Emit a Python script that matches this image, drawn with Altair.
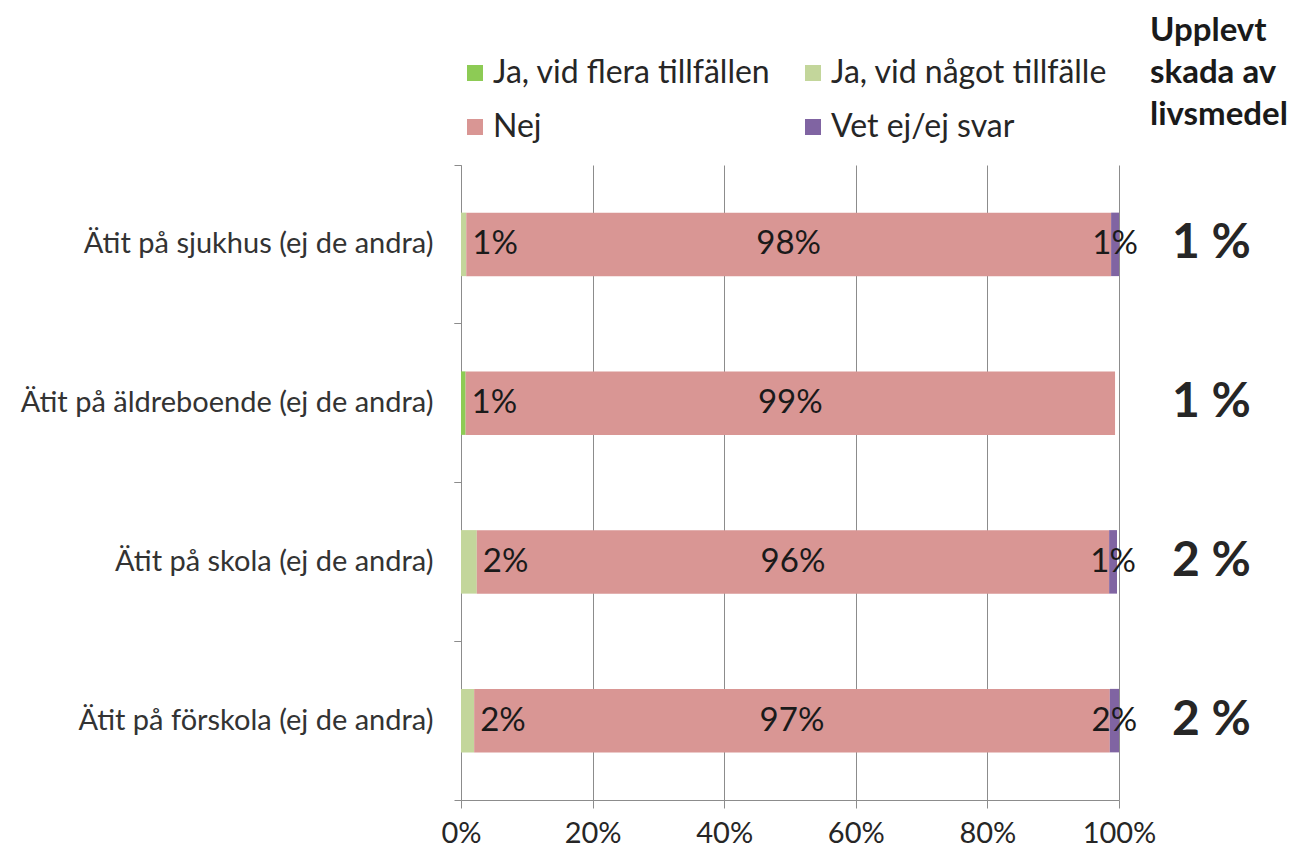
import altair as alt
import pandas as pd

categories = [
    "Ätit på sjukhus (ej de andra)",
    "Ätit på äldreboende (ej de andra)",
    "Ätit på skola (ej de andra)",
    "Ätit på förskola (ej de andra)",
]
responses = ["Ja, vid flera tillfällen", "Ja, vid något tillfälle", "Nej", "Vet ej/ej svar"]
colors = ["#8DCB55", "#C3D69B", "#D99694", "#8064A2"]

flera = [0.0, 0.7, 0.0, 0.0]
nagot = [0.8, 0.0, 2.4, 2.0]
nej = [98.0, 98.7, 96.1, 96.6]
vet = [1.2, 0.0, 1.2, 1.4]

flera_lbl = ["", "1%", "", ""]
nagot_lbl = ["1%", "", "2%", "2%"]
nej_lbl = ["98%", "99%", "96%", "97%"]
vet_lbl = ["1%", "", "1%", "2%"]

skada = ["1 %", "1 %", "2 %", "2 %"]
skada_title = ["Upplevt", "skada av", "livsmedel"]

rows = []
for i, c in enumerate(categories):
    for j, (vals, lbls) in enumerate([(flera, flera_lbl), (nagot, nagot_lbl), (nej, nej_lbl), (vet, vet_lbl)]):
        rows.append({"cat": c, "resp": responses[j], "ord": j, "val": vals[i] / 100.0, "label": lbls[i]})
df = pd.DataFrame(rows)
df_skada = pd.DataFrame({"cat": categories, "skada": skada})

FONT = "Lato"
W, H = 658, 635

ysort = categories
xscale = alt.Scale(domain=[0, 1])
yscale = alt.Scale(paddingInner=0.6, paddingOuter=0.3)

bars = alt.Chart(df).mark_bar().encode(
    x=alt.X("val:Q", stack="zero", scale=xscale, title=None,
            axis=alt.Axis(format=".0%", values=[0, 0.2, 0.4, 0.6, 0.8, 1.0])),
    y=alt.Y("cat:N", sort=ysort, scale=yscale, title=None,
            axis=alt.Axis(ticks=False, labelPadding=28, domain=True)),
    color=alt.Color("resp:N", sort=responses,
                    scale=alt.Scale(domain=responses, range=colors),
                    legend=alt.Legend(title=None, orient="none", legendX=-2, legendY=-108,
                                      direction="horizontal",
                                      columns=2, columnPadding=26, rowPadding=22,
                                      symbolType="square", symbolSize=256, symbolStrokeWidth=0,
                                      labelFontSize=32, labelFont=FONT, labelColor="#262626",
                                      labelLimit=400, labelOffset=2)),
    order=alt.Order("ord:Q"),
)

stacked = alt.Chart(df).transform_stack(
    stack="val", groupby=["cat"], as_=["x0", "x1"], sort=[alt.SortField("ord")]
).transform_calculate(mid="(datum.x0 + datum.x1) / 2").transform_filter("datum.label != ''")

lbl_left = stacked.transform_filter("datum.ord <= 1").mark_text(
    align="left", baseline="middle", dx=6, fontSize=33, font=FONT, color="#1a1a1a"
).encode(
    x=alt.X("x1:Q", scale=xscale, title=None),
    y=alt.Y("cat:N", sort=ysort, scale=yscale, title=None, axis=None),
    text="label:N",
)

lbl_mid = stacked.transform_filter("datum.ord >= 2").mark_text(
    align="center", baseline="middle", fontSize=33, font=FONT, color="#1a1a1a"
).encode(
    x=alt.X("mid:Q", scale=xscale, title=None),
    y=alt.Y("cat:N", sort=ysort, scale=yscale, title=None,
            axis=alt.Axis(orient="left", labels=False, domain=False, ticks=True,
                          bandPosition=1.75, tickSize=7, tickColor="#8c8c8c")),
    text="label:N",
)

skada_txt = alt.Chart(df_skada).mark_text(
    align="left", baseline="middle", fontSize=48, fontWeight="bold", font=FONT, color="#262626"
).encode(
    x=alt.value(711),
    y=alt.Y("cat:N", sort=ysort, scale=yscale, title=None,
            axis=alt.Axis(orient="left", labels=False, domain=False, ticks=True,
                          bandPosition=-0.75, tickSize=7, tickColor="#8c8c8c")),
    text="skada:N",
)

title_txt = alt.Chart(pd.DataFrame({"t": [0]})).mark_text(
    align="left", baseline="alphabetic", fontSize=33, fontWeight="bold", font=FONT,
    color="#1a1a1a", lineHeight=42
).encode(
    x=alt.value(689), y=alt.value(-124), text=alt.value(skada_title)
)

chart = alt.layer(bars, lbl_left, lbl_mid, skada_txt, title_txt).resolve_axis(
    y="independent"
).properties(
    width=W, height=H, autosize=alt.AutoSizeParams(type="none"),
    padding={"left": 453, "top": 157, "right": 174, "bottom": 52},
).configure_view(stroke=None).configure_axisX(
    grid=True, gridColor="#8c8c8c", gridWidth=1, domainColor="#8c8c8c",
    tickColor="#8c8c8c", tickSize=8, labelFontSize=29, labelFont=FONT,
    labelColor="#262626", labelPadding=11, labelFlush=False
).configure_axisY(
    domainColor="#8c8c8c", labelFontSize=29, labelFont=FONT, labelColor="#333333",
    labelLimit=500, grid=False
)

chart.save("out.html", embed_options={"renderer": "svg", "actions": False})
